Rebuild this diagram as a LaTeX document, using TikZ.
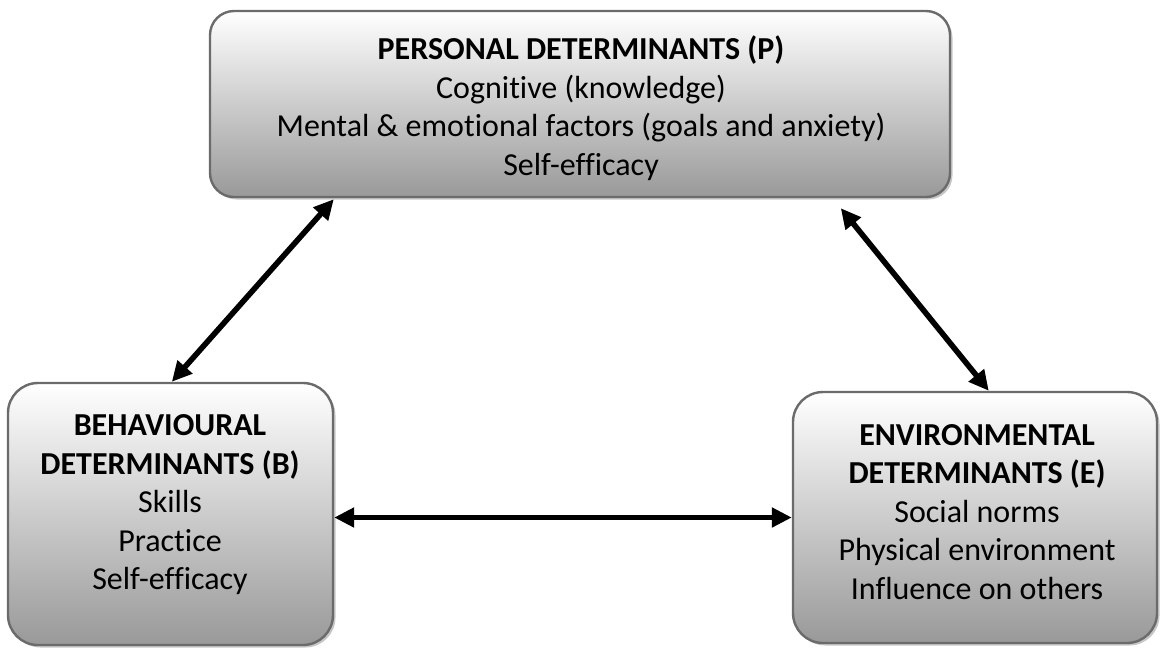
\documentclass[tikz,border=0pt]{standalone}
\usepackage{fontspec}
\setmainfont{Carlito}[Ligatures={NoCommon}]
\usetikzlibrary{arrows.meta,calc,shadows}

\tikzset{
  box/.style={
    rectangle, draw=black!58, line width=2.4pt,
    top color=white, bottom color=black!40,
    drop shadow={shadow xshift=2.5pt, shadow yshift=-2.5pt, opacity=1, fill=black!22},
    inner sep=0pt
  },
  boxtext/.style={align=center, font=\fontsize{32}{38.5}\selectfont, inner sep=0pt},
  link/.style={line width=5.6pt, black,
    {Triangle[length=20pt,width=19pt]}-{Triangle[length=20pt,width=19pt]}}
}

\begin{document}
\begin{tikzpicture}[x=1pt,y=-1pt]
  \useasboundingbox (0,0) rectangle (1161,649);

  % the three determinant boxes
  \node[box, rounded corners=24pt, minimum width=740pt, minimum height=186pt] (P) at (580,104) {};
  \node[box, rounded corners=30pt, minimum width=325pt, minimum height=262pt] (B) at (170.5,514) {};
  \node[box, rounded corners=30pt, minimum width=364pt, minimum height=251pt] (E) at (975,517.5) {};

  % their texts
  \node[boxtext] (Ptxt) at (581,108) {\textbf{PERSONAL DETERMINANTS (P)}\\Cognitive (knowledge)\\Mental \& emotional factors (goals and anxiety)\\Self-efficacy};
  \node[boxtext] (Btxt) at (170,505) {\textbf{BEHAVIOURAL}\\\textbf{DETERMINANTS (B)}\\Skills\\Practice\\Self-efficacy};
  \node[boxtext] (Etxt) at (977,512) {\textbf{ENVIRONMENTAL}\\\textbf{DETERMINANTS (E)}\\Social norms\\Physical environment\\Influence on others};

  % reciprocal links
  \draw[link] ($(P.south west)+(125,1)$) -- ($(B.north west)+(165,0)$);
  \draw[link] ($(P.south west)+(632,10)$) -- ($(E.north west)+(197,0)$);
  \draw[link] (B.east |- E.west) -- (E.west);
\end{tikzpicture}
\end{document}
